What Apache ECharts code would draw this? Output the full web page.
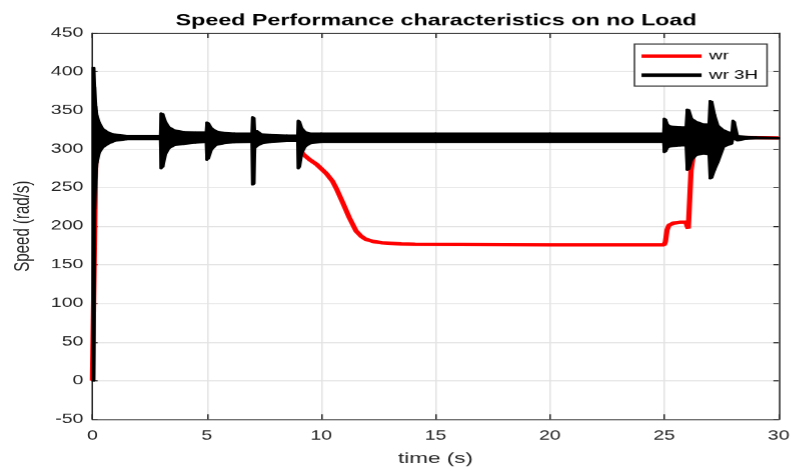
<!DOCTYPE html>
<html>
<head>
<meta charset="utf-8">
<script src="https://cdn.jsdelivr.net/npm/echarts@6/dist/echarts.min.js"></script>
<style>
  html, body { margin: 0; padding: 0; background: #fff; overflow: hidden; }
  #chart { width: 528.667px; height: 471px; transform: scaleX(1.5); transform-origin: 0 0; }
</style>
</head>
<body>
<div id="chart"></div>
<script>
// ---- data ----
const titleText = 'Speed Performance characteristics on no Load';
const xTicks = [0, 5, 10, 15, 20, 25, 30];
const yTicks = [-50, 0, 50, 100, 150, 200, 250, 300, 350, 400, 450];

// wr (red)
const wrTime = [0, 0.1, 0.11, 0.14, 0.2, 0.4, 3, 9, 9.1, 9.22, 9.5, 9.8, 10.23, 10.5, 10.66, 10.95, 11.23, 11.52, 11.75, 11.95, 12.3, 12.67, 13.5, 14.1, 20, 25, 25.05, 25.12, 25.2, 25.4, 25.7, 25.95, 26.0, 26.05, 26.12, 26.17, 26.3, 26.6, 27, 30];
const wrSpeed = [0, 0, 217, 280, 310, 315, 315, 315, 298, 293, 286, 280, 268, 258, 249, 230, 211, 194, 187, 183, 180, 178.5, 177, 176.5, 176, 176, 180, 195, 201, 204, 205, 205, 200, 197, 240, 272, 300, 313, 315, 314];

// wr 3H (black) – oscillation envelope
const w3Time = [0, 0.06, 0.1, 0.15, 0.2, 0.3, 0.45, 0.7, 1.0, 1.5, 2.97,
  3.0, 3.08, 3.2, 3.35, 3.6, 4.0, 4.5, 4.97,
  5.0, 5.08, 5.2, 5.4, 5.7, 6.2, 6.97,
  7.0, 7.06, 7.1, 7.2, 7.4, 7.8, 8.5, 8.97,
  9.0, 9.06, 9.15, 9.3, 9.5, 10, 15, 20, 24.97,
  25.0, 25.06, 25.15, 25.3, 25.7, 25.95,
  26.0, 26.08, 26.2, 26.4, 26.7, 26.95,
  27.0, 27.08, 27.2, 27.35, 27.6, 27.95,
  28.0, 28.06, 28.2, 28.6, 29, 30];
const w3Upper = [405, 405, 380, 355, 343, 334, 326, 321, 318.5, 317, 317,
  346, 345, 335, 328, 324, 322, 321.5, 321.5,
  334, 333, 327, 323, 321, 320, 320,
  341, 340, 321, 323, 319, 318, 317.5, 317.5,
  336.5, 335, 327, 322, 320, 320, 320, 320, 320,
  339, 338, 331, 329, 328, 328,
  351, 350, 339, 335, 332, 332,
  362, 361, 344, 330, 324, 320,
  336.5, 335, 317, 315.5, 315, 314.5];
const w3Lower = [0, 0, 222, 262, 282, 295, 302, 307, 310.5, 312.5, 312.5,
  275, 277, 293, 301, 305, 306.5, 308, 309,
  286, 288, 299, 305, 307, 308.5, 309,
  254, 255, 301, 304, 307, 309, 310, 310,
  275, 277, 294, 303, 307, 309, 309, 309, 309,
  296, 297, 302, 303.5, 304.5, 304.5,
  273, 274, 286, 292, 294, 293,
  262, 263, 273, 283, 303, 307,
  313, 313, 311, 313, 313.5, 313.5];

// ---- build series data ----
const wrData = wrTime.map((t, i) => [t, wrSpeed[i]]);
const bandData = w3Time.map((t, i) => [t, w3Upper[i], w3Lower[i]]);

const axisColor = '#262626';
const gridColor = '#e3e3e3';
const font = 'Liberation Sans, Arial, Helvetica, sans-serif';

function renderBand(params, api) {
  const i = params.dataIndex;
  if (i >= bandData.length - 1) return null;
  const a = bandData[i], b = bandData[i + 1];
  const pts = [
    api.coord([a[0], a[1]]), api.coord([b[0], b[1]]),
    api.coord([b[0], b[2]]), api.coord([a[0], a[2]])
  ];
  return {
    type: 'polygon',
    shape: { points: pts },
    style: { fill: '#000', stroke: '#000', lineWidth: 2, lineJoin: 'round' }
  };
}

const chart = echarts.init(document.getElementById('chart'), null, { devicePixelRatio: 1.5 });
chart.setOption({
  animation: false,
  backgroundColor: '#fff',
  title: {
    text: titleText, left: 117, top: 13, padding: 0,
    textStyle: { fontFamily: font, fontSize: 15.5, fontWeight: 'bold', color: '#000' }
  },
  legend: {
    data: [
      { name: 'wr', icon: 'rect', itemStyle: { color: '#ff0000' } },
      { name: 'wr 3H', icon: 'rect', itemStyle: { color: '#000000' } }
    ],
    orient: 'vertical', left: 422.7, top: 44,
    padding: [5, 6, 4, 4.7], itemGap: 5, itemWidth: 40, itemHeight: 3.5,
    backgroundColor: '#fff', borderColor: '#333', borderWidth: 1, borderRadius: 0,
    textStyle: { fontFamily: font, fontSize: 12.5, color: '#000', lineHeight: 14 }
  },
  grid: { left: 57.33, right: 7.33, top: 33, bottom: 44, containLabel: false },
  xAxis: [{
    type: 'value', min: xTicks[0], max: xTicks[xTicks.length - 1], interval: 5,
    name: 'time (s)', nameLocation: 'middle', nameGap: 32,
    nameTextStyle: { fontFamily: font, fontSize: 15, color: axisColor },
    axisLine: { show: true, onZero: false, lineStyle: { color: axisColor, width: 1 } },
    axisTick: { show: true, inside: true, length: 5, lineStyle: { color: axisColor } },
    axisLabel: { margin: 10, fontFamily: font, fontSize: 13, color: axisColor },
    splitLine: { show: true, lineStyle: { color: gridColor, width: 1 } }
  }, {
    type: 'value', position: 'top', min: xTicks[0], max: xTicks[xTicks.length - 1], interval: 5,
    axisLine: { show: true, onZero: false, lineStyle: { color: axisColor, width: 1 } },
    axisTick: { show: true, inside: true, length: 5, lineStyle: { color: axisColor } },
    axisLabel: { show: false }, splitLine: { show: false }
  }],
  yAxis: [{
    type: 'value', min: yTicks[0], max: yTicks[yTicks.length - 1], interval: 50,
    name: 'Speed (rad/s)', nameLocation: 'middle', nameGap: 35, nameRotate: 90,
    nameTextStyle: { fontFamily: font, fontSize: 15, color: axisColor },
    axisLine: { show: true, onZero: false, lineStyle: { color: axisColor, width: 1 } },
    axisTick: { show: true, inside: true, length: 3.5, lineStyle: { color: axisColor } },
    axisLabel: { margin: 6, fontFamily: font, fontSize: 13, color: axisColor },
    splitLine: { show: true, lineStyle: { color: gridColor, width: 1 } }
  }, {
    type: 'value', position: 'right', min: yTicks[0], max: yTicks[yTicks.length - 1], interval: 50,
    axisLine: { show: true, onZero: false, lineStyle: { color: axisColor, width: 1 } },
    axisTick: { show: true, inside: true, length: 3.5, lineStyle: { color: axisColor } },
    axisLabel: { show: false }, splitLine: { show: false }
  }],
  series: [
    {
      name: 'wr', type: 'line', data: wrData, symbol: 'none', showSymbol: false,
      lineStyle: { color: '#ff0000', width: 3.5 }, itemStyle: { color: '#ff0000' }, z: 2
    },
    {
      name: 'wr 3H', type: 'custom', data: bandData, renderItem: renderBand,
      encode: { x: 0, y: [1, 2] }, itemStyle: { color: '#000' }, z: 3, clip: true
    }
  ]
});
</script>
</body>
</html>
